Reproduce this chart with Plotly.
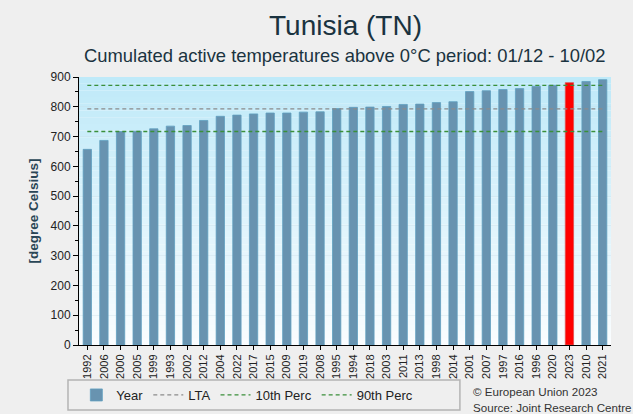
import plotly.graph_objects as go

years = ["1992","2006","2000","2005","1999","1993","2002","2012","2004","2022","2017","2015",
         "2009","2019","2008","1995","1994","2018","2003","2011","2013","1998","2014","2001",
         "2007","1997","2016","1996","2020","2023","2010","2021"]
values = [657, 687, 717, 718, 726, 735, 737, 754, 768, 772, 776, 779,
          779, 782, 783, 794, 798, 799, 801, 808, 809, 814, 817, 851,
          854, 858, 861, 869, 872, 881, 885, 891]
lta = 793
perc10 = 717
perc90 = 872
highlight_year = "2023"

bar_color = "#6893b0"
colors = ["#ff0000" if y == highlight_year else bar_color for y in years]
line_colors = ["#5f9fc0" if y != highlight_year else "#e05050" for y in years]

fig = go.Figure()
fig.add_trace(go.Bar(x=years, y=values, name="Year", marker=dict(color=colors, line=dict(color=line_colors, width=0.8)),
                     width=0.5, showlegend=True))
fig.add_trace(go.Scatter(x=years, y=[lta]*len(years), mode="lines", name="LTA",
                         line=dict(color="#8c8c8c", dash="4px,3px", width=1.3)))
fig.add_trace(go.Scatter(x=years, y=[perc10]*len(years), mode="lines", name="10th Perc",
                         line=dict(color="#3a8f3a", dash="4px,3px", width=1.3)))
fig.add_trace(go.Scatter(x=years, y=[perc90]*len(years), mode="lines", name="90th Perc",
                         line=dict(color="#3a8f3a", dash="4px,3px", width=1.3)))

# gradient background
shapes = []
n = 40
top = (191, 234, 249)
bot = (250, 253, 255)
for i in range(n):
    t = i / (n - 1)
    c = tuple(int(bot[k] + (top[k] - bot[k]) * t) for k in range(3))
    shapes.append(dict(type="rect", xref="paper", yref="paper", x0=0, x1=1,
                       y0=i / n, y1=(i + 1) / n, fillcolor="rgb(%d,%d,%d)" % c,
                       line=dict(width=0), layer="below"))
# legend frame
shapes.append(dict(type="rect", xref="paper", yref="paper", x0=-0.0207, x1=0.716,
                   y0=-0.2425, y1=-0.1306, line=dict(color="#b4b4b4", width=1.5),
                   fillcolor="rgba(0,0,0,0)", layer="above"))

fig.update_layout(
    width=633, height=414,
    margin=dict(l=79, r=22, t=77, b=69, autoexpand=False),
    paper_bgcolor="#efefef",
    plot_bgcolor="#ffffff",
    shapes=shapes,
    font=dict(family="Liberation Sans, Arial, sans-serif", color="#222222"),
    bargap=0.5,
    showlegend=True,
    legend=dict(orientation="h", x=-0.005, xanchor="left", y=-0.1306, yanchor="top",
                bgcolor="rgba(0,0,0,0)", borderwidth=0,
                font=dict(size=13, color="#222222"), itemwidth=30,
                traceorder="normal"),
    annotations=[
        dict(text="Tunisia (TN)", xref="paper", yref="paper", x=0.5, y=1, yshift=52,
             showarrow=False, font=dict(size=28, color="#1a3340"), xanchor="center", yanchor="middle"),
        dict(text="Cumulated active temperatures above 0°C period: 01/12 - 10/02", xref="paper", yref="paper",
             x=0.5, y=1, yshift=22, showarrow=False, font=dict(size=18.4, color="#1a3340"),
             xanchor="center", yanchor="middle"),
        dict(text="© European Union 2023", xref="paper", yref="paper", x=0.737, y=0, yshift=-46,
             showarrow=False, font=dict(size=11.6, color="#333333"), xanchor="left", yanchor="middle"),
        dict(text="Source: Joint Research Centre", xref="paper", yref="paper", x=0.737, y=0, yshift=-62,
             showarrow=False, font=dict(size=11.6, color="#333333"), xanchor="left", yanchor="middle"),
    ],
)
fig.update_xaxes(type="category", range=[-0.5, len(years) - 0.5], showline=True, linecolor="#000000",
                 linewidth=1, ticks="outside", ticklen=4, tickcolor="#000000", tickangle=-90,
                 tickfont=dict(size=11, color="#222222"), showgrid=False, fixedrange=True, automargin=False)
fig.update_yaxes(range=[0, 900], dtick=100, showline=True, linecolor="#000000", linewidth=1,
                 ticks="outside", ticklen=5, tickcolor="#000000", automargin=False,
                 minor=dict(dtick=50, ticks="outside", ticklen=3, tickcolor="#000000", showgrid=False),
                 showgrid=True, gridcolor="rgba(200,220,230,0.35)", zeroline=False,
                 tickfont=dict(size=12, color="#222222"),
                 title=dict(text="<b>[degree Celsius]</b>", font=dict(size=13.5, color="#2a4656"), standoff=8))

fig.write_html("out.html", config={"displayModeBar": False},
               post_script="document.body.style.margin='0';")
